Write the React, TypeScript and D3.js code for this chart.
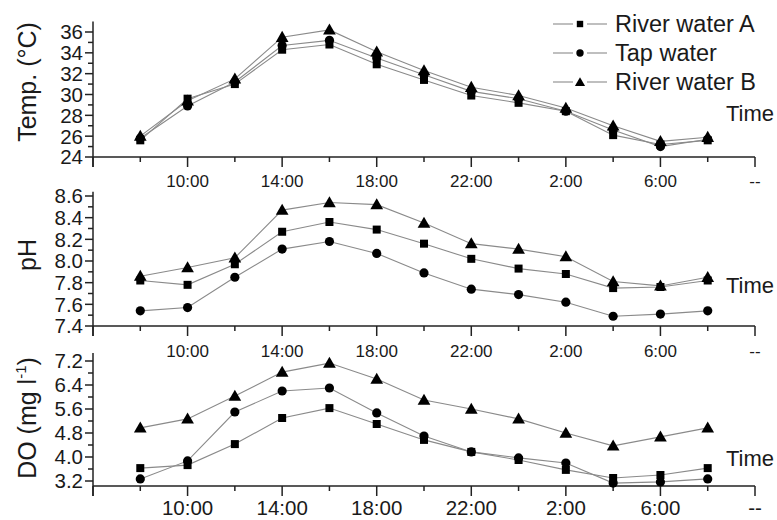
import React from "react";
import * as d3 from "d3";

const times = ["8:00", "10:00", "12:00", "14:00", "16:00", "18:00", "20:00", "22:00", "24:00", "2:00", "4:00", "6:00", "8:00"];
const xMajorLabels = ["", "10:00", "14:00", "18:00", "22:00", "2:00", "6:00", "--"];
const seriesNames = ["River water A", "Tap water", "River water B"];

const tempA = [25.6, 29.6, 31.0, 34.3, 34.8, 32.9, 31.4, 29.9, 29.2, 28.4, 26.1, 25.2, 25.6];
const tempTap = [25.8, 28.9, 31.2, 34.7, 35.2, 33.5, 31.9, 30.3, 29.6, 28.4, 26.6, 25.0, 25.7];
const tempB = [26.0, 29.4, 31.5, 35.5, 36.2, 34.1, 32.3, 30.7, 29.9, 28.7, 27.0, 25.5, 25.9];

const pHA = [7.82, 7.78, 7.97, 8.27, 8.36, 8.29, 8.16, 8.02, 7.93, 7.88, 7.75, 7.76, 7.82];
const pHTap = [7.54, 7.57, 7.85, 8.11, 8.18, 8.07, 7.89, 7.74, 7.69, 7.62, 7.49, 7.51, 7.54];
const pHB = [7.86, 7.94, 8.03, 8.47, 8.54, 8.52, 8.35, 8.16, 8.11, 8.04, 7.81, 7.77, 7.85];

const doA = [3.63, 3.73, 4.43, 5.3, 5.63, 5.1, 4.57, 4.17, 3.9, 3.57, 3.3, 3.4, 3.63];
const doTap = [3.27, 3.87, 5.5, 6.2, 6.3, 5.47, 4.7, 4.17, 3.97, 3.8, 3.13, 3.17, 3.27];
const doB = [4.97, 5.27, 6.03, 6.83, 7.13, 6.6, 5.9, 5.6, 5.27, 4.8, 4.37, 4.67, 4.97];

const tempTicks = [24, 26, 28, 30, 32, 34, 36];
const tempMinor = [25, 27, 29, 31, 33, 35];
const pHTicks = [7.4, 7.6, 7.8, 8.0, 8.2, 8.4, 8.6];
const pHMinor = [7.5, 7.7, 7.9, 8.1, 8.3, 8.5];
const doTicks = [3.2, 4.0, 4.8, 5.6, 6.4, 7.2];
const doMinor = [3.6, 4.4, 5.2, 6.0, 6.8];

const FONT = "'Liberation Sans', Arial, Helvetica, sans-serif";
const TXT = "#1a1a1a";
const AX = "#222";
const LINE = "#8a8a8a";

const x = d3.scaleLinear().domain([0, 14]).range([93, 755]);

type Panel = {
  key: string;
  domain: [number, number];
  range: [number, number];
  axisMin: number;
  axisMax: number;
  ticks: number[];
  minor: number[];
  fmt: (v: number) => string;
  data: number[][];
  labelSize: number;
  labelDy: number;
  timeY: number;
};

const panels: Panel[] = [
  { key: "temp", domain: [24, 36], range: [157, 32], axisMin: 24, axisMax: 37, ticks: tempTicks, minor: tempMinor, fmt: d3.format("d"), data: [tempA, tempTap, tempB], labelSize: 17, labelDy: 30, timeY: 121 },
  { key: "ph", domain: [7.4, 8.6], range: [326, 196], axisMin: 7.4, axisMax: 8.64, ticks: pHTicks, minor: pHMinor, fmt: d3.format(".1f"), data: [pHA, pHTap, pHB], labelSize: 17, labelDy: 31, timeY: 293 },
  { key: "do", domain: [3.2, 7.2], range: [481, 361], axisMin: 3.033, axisMax: 7.47, ticks: doTicks, minor: doMinor, fmt: d3.format(".1f"), data: [doA, doTap, doB], labelSize: 20.5, labelDy: 29, timeY: 466 },
];

function Marker({ kind, cx, cy, s = 1 }: { kind: number; cx: number; cy: number; s?: number }) {
  if (kind === 0) {
    const h = 4 * s;
    return <rect x={cx - h} y={cy - h} width={2 * h} height={2 * h} fill="#000" />;
  }
  if (kind === 1) return <circle cx={cx} cy={cy} r={4.6 * s} fill="#000" />;
  const t = d3.symbol().type(d3.symbolTriangle).size(70 * s * s)();
  return <path d={t as string} transform={`translate(${cx},${cy + 1})`} fill="#000" />;
}

export default function App() {
  return (
    <svg width={777} height={520} style={{ position: "absolute", left: 0, top: 0, background: "#fff" }} fontFamily={FONT}>
      {panels.map((p) => {
        const y = d3.scaleLinear().domain(p.domain).range(p.range);
        const y0 = y(p.axisMin);
        const line = d3.line<number>().x((_, i) => x(i + 1)).y((v) => y(v));
        return (
          <g key={p.key}>
            <line x1={x(0)} x2={x(0)} y1={y(p.axisMax)} y2={y0 + 10} stroke={AX} strokeWidth={1.5} />
            <line x1={x(0)} x2={x(14)} y1={y0} y2={y0} stroke={AX} strokeWidth={1.5} />
            {d3.range(0, 15).map((i) => (
              <line key={"xt" + i} x1={x(i)} x2={x(i)} y1={y0} y2={y0 + (i % 2 === 0 ? 10 : 5)} stroke={AX} strokeWidth={1.5} />
            ))}
            {xMajorLabels.map((l, k) => (
              <text key={"xl" + k} x={x(k * 2)} y={y0 + p.labelDy} textAnchor="middle" fontSize={p.labelSize} fill={TXT}>{l}</text>
            ))}
            {p.ticks.map((t) => (
              <g key={"yt" + t}>
                <line x1={x(0) - 8} x2={x(0)} y1={y(t)} y2={y(t)} stroke={AX} strokeWidth={1.5} />
                <text x={x(0) - 10} y={y(t)} dy="0.36em" textAnchor="end" fontSize={20.5} fill={TXT}>{p.fmt(t)}</text>
              </g>
            ))}
            {p.minor.map((t) => (
              <line key={"ym" + t} x1={x(0) - 5} x2={x(0)} y1={y(t)} y2={y(t)} stroke={AX} strokeWidth={1.5} />
            ))}
            {p.data.map((d, si) => (
              <path key={"l" + si} d={line(d) as string} fill="none" stroke={LINE} strokeWidth={1.1} />
            ))}
            {p.data.map((d, si) => (
              <g key={"m" + si}>
                {d.map((v, i) => (
                  <Marker key={i} kind={si} cx={x(i + 1)} cy={y(v)} />
                ))}
              </g>
            ))}
            <text x={726} y={p.timeY} fontSize={22} fill={TXT}>Time</text>
          </g>
        );
      })}
      <text transform="translate(36,82) rotate(-90)" textAnchor="middle" fontSize={25} fill={TXT}>Temp. (°C)</text>
      <text transform="translate(36,255) rotate(-90)" textAnchor="middle" fontSize={25} fill={TXT}>pH</text>
      <text transform="translate(36,418) rotate(-90)" textAnchor="middle" fontSize={25} fill={TXT}>
        DO (mg l<tspan dy={-10} fontSize={15}>-1</tspan><tspan dy={10}>)</tspan>
      </text>
      {seriesNames.map((n, i) => {
        const ly = 24 + i * 29;
        return (
          <g key={"lg" + i}>
            <line x1={553} x2={573} y1={ly} y2={ly} stroke={LINE} strokeWidth={1.1} />
            <line x1={587} x2={607} y1={ly} y2={ly} stroke={LINE} strokeWidth={1.1} />
            <Marker kind={i} cx={580} cy={ly} s={0.8} />
            <text x={615} y={ly} dy="0.36em" fontSize={23.5} fill={TXT}>{n}</text>
          </g>
        );
      })}
    </svg>
  );
}
